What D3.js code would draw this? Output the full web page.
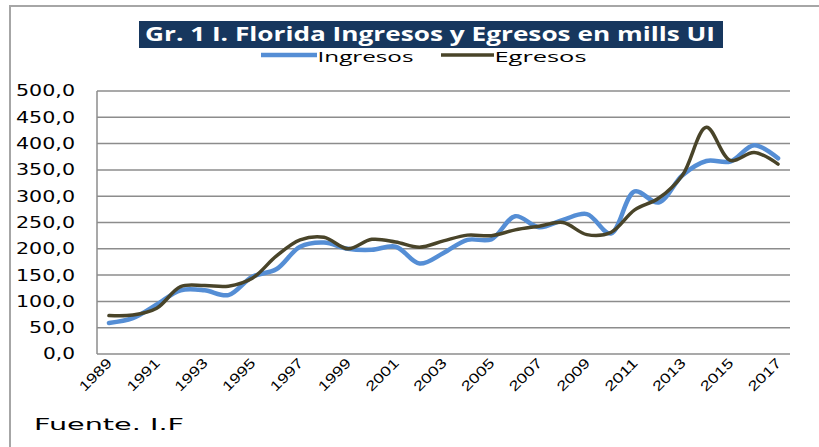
<!DOCTYPE html>
<html>
<head>
<meta charset="utf-8">
<script src="https://cdn.jsdelivr.net/npm/d3@7"></script>
<style>
  body { margin: 0; background: #fff; }
  svg { display: block; }
</style>
</head>
<body>
<div id="chart"></div>
<script>
const years = [1989, 1990, 1991, 1992, 1993, 1994, 1995, 1996, 1997, 1998,
  1999, 2000, 2001, 2002, 2003, 2004, 2005, 2006, 2007, 2008,
  2009, 2010, 2011, 2012, 2013, 2014, 2015, 2016, 2017];
const ingresos = [59, 68, 94, 121, 121, 112, 147, 161, 204, 212,
  200, 198, 204, 172, 192, 217, 218, 262, 241, 255,
  266, 229, 309, 288, 340, 367, 366, 397, 372];
const egresos = [73, 74, 87, 128, 130, 129, 144, 186, 217, 222,
  200, 218, 213, 203, 215, 226, 225, 236, 243, 250,
  227, 231, 274, 296, 340, 431, 368, 383, 361];
const yTicks = [0, 50, 100, 150, 200, 250, 300, 350, 400, 450, 500];
const xLabels = years.filter((d, i) => i % 2 === 0);

const width = 819, height = 447;
const plot = { left: 97, right: 790, top: 91, bottom: 354 };

const svg = d3.select('#chart').append('svg')
  .attr('width', width)
  .attr('height', height);

// outer frame (only left and top edges visible)
svg.append('rect')
  .attr('x', 10).attr('y', 6)
  .attr('width', width + 10).attr('height', height + 10)
  .attr('fill', 'none')
  .attr('stroke', '#a6a6a6')
  .attr('stroke-width', 2);

const x = d3.scaleBand().domain(years).range([plot.left, plot.right]);
const y = d3.scaleLinear().domain([0, 500]).range([plot.bottom, plot.top]);
const cx = d => x(d) + x.bandwidth() / 2;

// gridlines
svg.append('g')
  .selectAll('line').data(yTicks).join('line')
    .attr('x1', plot.left).attr('x2', plot.right)
    .attr('y1', d => y(d)).attr('y2', d => y(d))
    .attr('stroke', '#8c8c8c')
    .attr('stroke-width', 1.5);

// y axis line
svg.append('line')
  .attr('x1', plot.left).attr('x2', plot.left)
  .attr('y1', plot.top).attr('y2', plot.bottom)
  .attr('stroke', '#8c8c8c').attr('stroke-width', 1.5);

// y tick labels
const fmt = d => d3.format('.1f')(d).replace('.', ',');
svg.append('g')
  .selectAll('text').data(yTicks).join('text')
    .attr('x', 75)
    .attr('y', d => y(d))
    .attr('dy', '0.36em')
    .attr('text-anchor', 'end')
    .attr('font-family', 'DejaVu Sans, sans-serif')
    .attr('font-size', '15px')
    .attr('fill', '#000')
    .attr('textLength', d => fmt(d).length === 5 ? 59 : fmt(d).length === 4 ? 46 : 32)
    .attr('lengthAdjust', 'spacingAndGlyphs')
    .text(fmt);

// x tick labels
svg.append('g')
  .selectAll('text').data(xLabels).join('text')
    .attr('transform', d => `translate(${cx(d) + 4}, 364) rotate(-45)`)
    .attr('text-anchor', 'end')
    .attr('font-family', 'Liberation Sans, Arial, sans-serif')
    .attr('font-size', '14px')
    .attr('fill', '#000')
    .attr('textLength', 40)
    .attr('lengthAdjust', 'spacingAndGlyphs')
    .text(d => d);

// lines
const line = d3.line()
  .x((d, i) => cx(years[i]))
  .y(d => y(d))
  .curve(d3.curveCatmullRom.alpha(0.5));

svg.append('path')
  .datum(ingresos)
  .attr('fill', 'none')
  .attr('stroke', '#558ed5')
  .attr('stroke-width', 4.5)
  .attr('stroke-linecap', 'round')
  .attr('d', line);

svg.append('path')
  .datum(egresos)
  .attr('fill', 'none')
  .attr('stroke', '#494429')
  .attr('stroke-width', 3.5)
  .attr('stroke-linecap', 'round')
  .attr('d', line);

// title
svg.append('rect')
  .attr('x', 139).attr('y', 21)
  .attr('width', 584).attr('height', 27)
  .attr('fill', '#17375e');
svg.append('text')
  .attr('x', 145).attr('y', 41)
  .attr('font-family', 'Open Sans, sans-serif')
  .attr('font-weight', 'bold')
  .attr('font-size', '19px')
  .attr('fill', '#fff')
  .attr('textLength', 570)
  .attr('lengthAdjust', 'spacingAndGlyphs')
  .text('Gr. 1 I. Florida Ingresos y Egresos en mills UI');

// legend
const legend = [
  { name: 'Ingresos', color: '#558ed5', w: 4.5, x0: 261, x1: 317, tl: 96 },
  { name: 'Egresos', color: '#494429', w: 3.5, x0: 441, x1: 494, tl: 92 }
];
const lg = svg.append('g');
lg.selectAll('line').data(legend).join('line')
  .attr('x1', d => d.x0).attr('x2', d => d.x1)
  .attr('y1', 55).attr('y2', 55)
  .attr('stroke', d => d.color)
  .attr('stroke-width', d => d.w);
lg.selectAll('text').data(legend).join('text')
  .attr('x', d => d.x1 + 0.5)
  .attr('y', 62)
  .attr('font-family', 'Open Sans, sans-serif')
  .attr('font-size', '15px')
  .attr('fill', '#000')
  .attr('textLength', d => d.tl)
  .attr('lengthAdjust', 'spacingAndGlyphs')
  .text(d => d.name);

// source note
svg.append('text')
  .attr('x', 34).attr('y', 430)
  .attr('font-family', 'DejaVu Sans, sans-serif')
  .attr('font-size', '15px')
  .attr('fill', '#000')
  .attr('textLength', 150)
  .attr('lengthAdjust', 'spacingAndGlyphs')
  .text('Fuente. I.F');
</script>
</body>
</html>
